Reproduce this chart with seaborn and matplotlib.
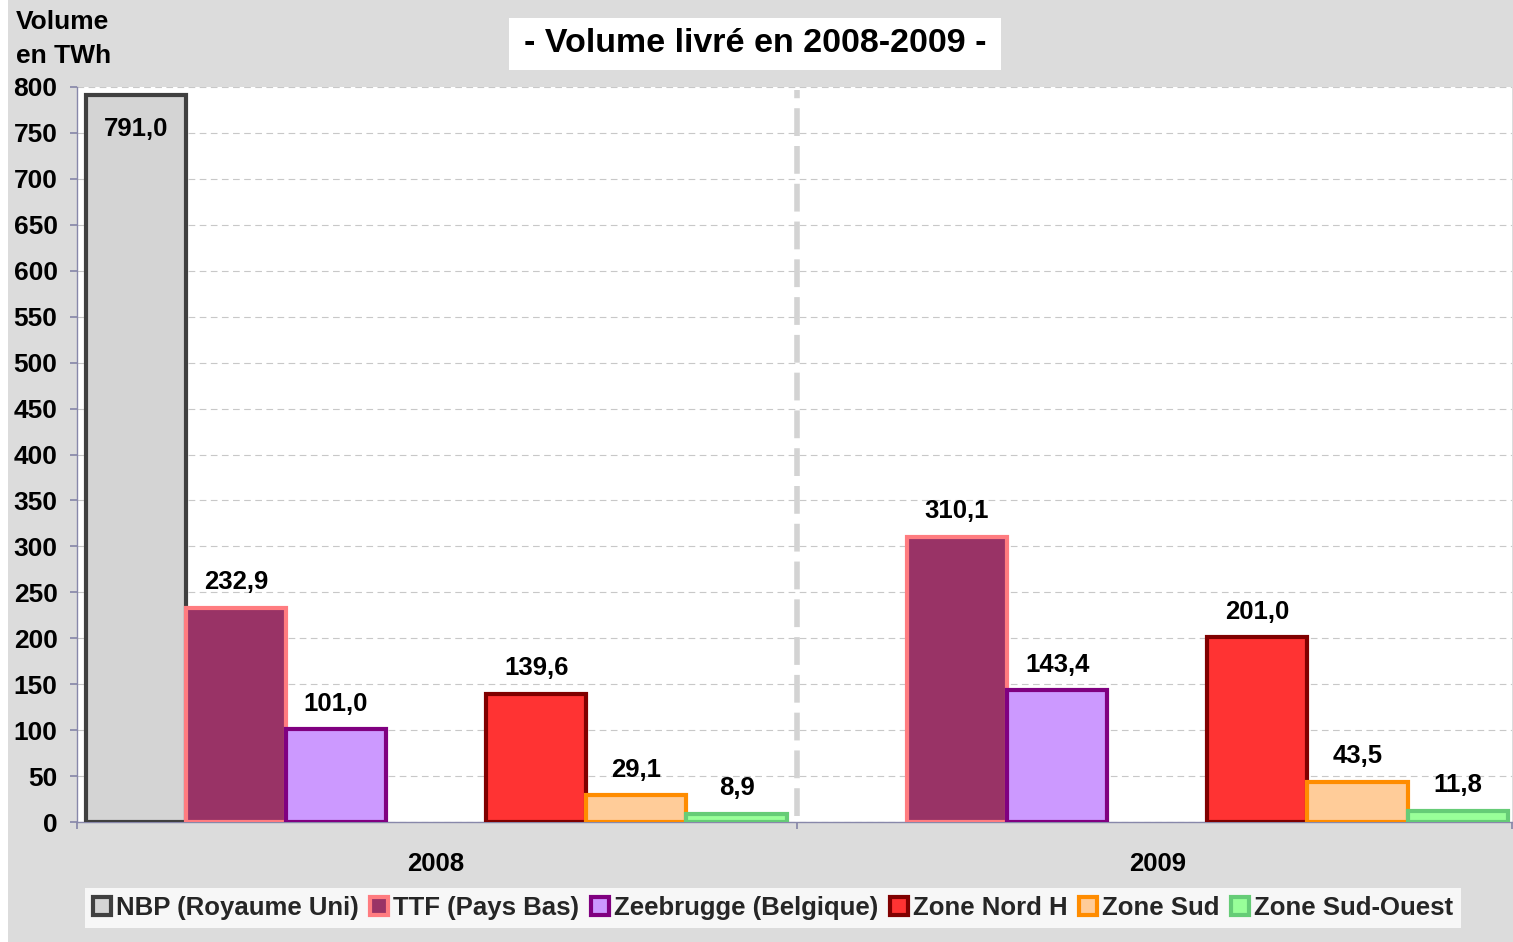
import numpy as np
import pandas as pd
import seaborn as sns
import matplotlib
matplotlib.use("Agg")
import matplotlib.pyplot as plt
from matplotlib.patches import Patch, Rectangle

# ---- data ----
years = ["2008", "2009"]
markets = ["NBP (Royaume Uni)", "TTF (Pays Bas)", "Zeebrugge (Belgique)", "_vide",
           "Zone Nord H", "Zone Sud", "Zone Sud-Ouest"]
nbp = [791.0, np.nan]
ttf = [232.9, 310.1]
zee = [101.0, 143.4]
vide = [np.nan, np.nan]
nord_h = [139.6, 201.0]
sud = [29.1, 43.5]
sud_ouest = [8.9, 11.8]

fills = ["#d4d4d4", "#993366", "#cc99ff", "#ffffff", "#ff3333", "#ffcc99", "#99ff99"]
edges = ["#404040", "#ff7c80", "#800080", "#ffffff", "#800000", "#ff8c00", "#66cc77"]

series = [nbp, ttf, zee, vide, nord_h, sud, sud_ouest]
rows = []
for m, vals in zip(markets, series):
    for y, v in zip(years, vals):
        rows.append({"year": y, "market": m, "value": v})
df = pd.DataFrame(rows)

sns.set_theme(style="white")
plt.rcParams["font.family"] = ["Liberation Sans", "DejaVu Sans"]
plt.rcParams["font.weight"] = "bold"

W, H = 1513, 942
fig = plt.figure(figsize=(W / 100, H / 100), dpi=100)
fig.patch.set_facecolor("white")
fig.patches.append(Rectangle((8 / W, 0), 1, 1, transform=fig.transFigure,
                             facecolor="#dcdcdc", edgecolor="none", zorder=-10))

ax = fig.add_axes([77 / W, 1 - 822 / H, (1512 - 77) / W, (822 - 87) / H])
ax.set_facecolor("white")

sns.barplot(data=df, x="year", y="value", hue="market", order=years,
            hue_order=markets, palette=dict(zip(markets, fills)), saturation=1,
            width=0.972, errorbar=None, ax=ax, legend=False, zorder=3)

edge_map = dict(zip([matplotlib.colors.to_hex(c) for c in fills], edges))
for p in ax.patches:
    h = p.get_height()
    if h is None or np.isnan(h):
        continue
    fc = matplotlib.colors.to_hex(p.get_facecolor())
    p.set_edgecolor(edge_map.get(fc, "#000000"))
    p.set_linewidth(3)
    txt = f"{h:.1f}".replace(".", ",")
    xc = p.get_x() + p.get_width() / 2
    if h > 740:
        ax.annotate(txt, (xc, h), xytext=(0, -24), textcoords="offset points",
                    ha="center", va="center", fontsize=18.5, fontweight="bold",
                    color="black", zorder=5)
    else:
        ax.annotate(txt, (xc, h), xytext=(0, 18.5), textcoords="offset points",
                    ha="center", va="center", fontsize=18.5, fontweight="bold",
                    color="black", zorder=5)

ax.set_xlim(-0.498, 1.492)
ax.set_ylim(0, 800)
ax.set_yticks(np.arange(0, 801, 50))
ax.yaxis.grid(True, color="#c8c8c8", linestyle=(0, (6, 4)), linewidth=0.8, zorder=0)
ax.set_axisbelow(True)

ax.axvline(0.5, ymin=0.008, ymax=0.996, color="#d3d3d3", linewidth=4,
           linestyle=(0, (5, 1.8)), zorder=2)

for s in ["top", "right"]:
    ax.spines[s].set_visible(False)
for s in ["left", "bottom"]:
    ax.spines[s].set_color("#8888aa")
    ax.spines[s].set_linewidth(1)

ax.set_xticks([-0.498, 0.5, 1.492])
ax.set_xticklabels(["", "", ""])
ax.set_xticks([0, 1], minor=True)
ax.set_xticklabels(years, minor=True)
ax.tick_params(axis="x", which="major", direction="out", length=5, color="#8888aa",
               bottom=True)
ax.tick_params(axis="x", which="minor", length=0, pad=21.5, labelsize=18.5,
               bottom=True)
ax.tick_params(axis="y", direction="out", length=5, color="#8888aa", left=True,
               labelsize=19, pad=9)
for lab in ax.get_xticklabels(minor=True) + ax.get_yticklabels():
    lab.set_fontweight("bold")
    lab.set_color("black")
ax.set_xlabel("")
ax.set_ylabel("")

fig.text(16 / W, 1 - 10 / H, "Volume\nen TWh", ha="left", va="top", fontsize=19,
         fontweight="bold", color="black", linespacing=1.55)

fig.patches.append(Rectangle((509 / W, 1 - 70 / H), (1001 - 509) / W, 52 / H,
                             transform=fig.transFigure, facecolor="white",
                             edgecolor="none", zorder=-5))
fig.text(755 / W, 1 - 44 / H, "- Volume livré en 2008-2009 -", ha="center",
         va="center", fontsize=24.5, fontweight="bold", color="black")

handles = [Patch(facecolor=f, edgecolor=e, linewidth=3, label=m)
           for m, f, e in zip(markets, fills, edges) if not m.startswith("_")]
leg = fig.legend(handles=handles, loc="center", bbox_to_anchor=(773 / W, 1 - 908 / H),
                 ncol=6, prop={"size": 18.5, "weight": "bold"}, frameon=True,
                 fancybox=False, handlelength=0.7, handleheight=0.7,
                 handletextpad=0.2, columnspacing=0.45, borderpad=0.3,
                 borderaxespad=0)
leg.get_frame().set_facecolor("white")
leg.get_frame().set_edgecolor("none")

fig.savefig("out.png", dpi=100)
